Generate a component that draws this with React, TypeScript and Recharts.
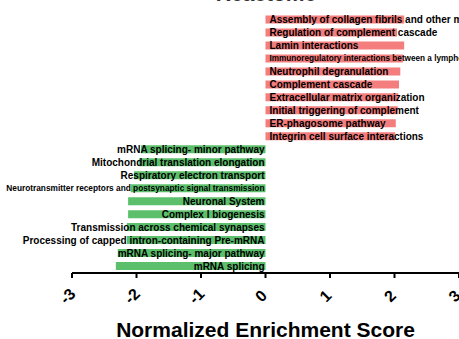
import React from 'react';
import { BarChart, Bar, XAxis, YAxis, Cell, LabelList } from 'recharts';

const pathways = [
  'Assembly of collagen fibrils and other multimeric structures',
  'Regulation of complement cascade',
  'Lamin interactions',
  'Immunoregulatory interactions between a lymphoid and a non-lymphoid cell',
  'Neutrophil degranulation',
  'Complement cascade',
  'Extracellular matrix organization',
  'Initial triggering of complement',
  'ER-phagosome pathway',
  'Integrin cell surface interactions',
  'mRNA splicing- minor pathway',
  'Mitochondrial translation elongation',
  'Respiratory electron transport',
  'Neurotransmitter receptors and postsynaptic signal transmission',
  'Neuronal System',
  'Complex I biogenesis',
  'Transmission across chemical synapses',
  'Processing of capped intron-containing Pre-mRNA',
  'mRNA splicing- major pathway',
  'mRNA splicing',
];

const nes = [
  2.15, 2.04, 2.15, 2.13, 2.09, 2.07, 2.06, 2.05, 2.02, 2.01,
  -1.93, -1.96, -2.04, -2.09, -2.13, -2.13, -2.15, -2.15, -2.29, -2.32,
];

const xTicks = [-3, -2, -1, 0, 1, 2, 3];

const data = pathways.map((name, i) => ({ name, nes: nes[i] }));

const FONT = '"Liberation Sans", Arial, sans-serif';
const UP = '#F47D7D';
const DOWN = '#5CBF6C';

// long names were shrunk to fit in the original
const labelSize = (name: string) => {
  if (name.startsWith('Immunoregulatory')) return 8.2;
  if (name.startsWith('Neurotransmitter')) return 8.3;
  return 10;
};

const BarLabel = (props: any) => {
  const { x, y, width, height, value, index } = props;
  const name = pathways[index];
  const zero = width >= 0 ? (value >= 0 ? x : x + width) : x;
  const pos = value >= 0;
  return (
    <text
      x={pos ? zero + 4 : zero - 1}
      y={y + height / 2}
      textAnchor={pos ? 'start' : 'end'}
      dominantBaseline="central"
      fontFamily={FONT}
      fontWeight="bold"
      fontSize={labelSize(name)}
      fill="#000"
    >
      {name}
    </text>
  );
};

const RotTick = (props: any) => {
  const { x, y, payload } = props;
  return (
    <text
      transform={`translate(${x - 4.5},${y + 16}) rotate(-45)`}
      textAnchor="middle"
      dominantBaseline="central"
      fontFamily={FONT}
      fontWeight="bold"
      fontSize={16}
      fill="#000"
    >
      {payload.value}
    </text>
  );
};

const AxisTitle = (props: any) => {
  const vb = props.viewBox;
  return (
    <text
      x={vb.x + vb.width / 2}
      y={vb.y + vb.height - 2}
      textAnchor="middle"
      fontFamily={FONT}
      fontWeight="bold"
      fontSize={21}
      fill="#000"
    >
      Normalized Enrichment Score
    </text>
  );
};

export default function App() {
  return (
    <div style={{ position: 'absolute', left: 0, top: 0, width: 459, height: 339, overflow: 'hidden', background: '#fff' }}>
      <BarChart
        width={480}
        height={339}
        data={data}
        layout="vertical"
        margin={{ top: 13.5, right: 21, bottom: 0, left: 72 }}
      >
        <XAxis
          type="number"
          domain={[-3, 3]}
          ticks={xTicks}
          height={66}
          tick={<RotTick />}
          tickSize={5}
          axisLine={{ stroke: '#000', strokeWidth: 2 }}
          tickLine={{ stroke: '#000', strokeWidth: 2 }}
          label={<AxisTitle />}
        />
        <YAxis type="category" dataKey="name" hide />
        <Bar dataKey="nes" barSize={8} isAnimationActive={false}>
          {data.map((d, i) => (
            <Cell key={i} fill={d.nes >= 0 ? UP : DOWN} />
          ))}
          <LabelList dataKey="nes" content={<BarLabel />} />
        </Bar>
      </BarChart>
      <svg width={459} height={339} style={{ position: 'absolute', left: 0, top: 0, pointerEvents: 'none' }}>
        <text x={266} y={1} textAnchor="middle" fontFamily={FONT} fontWeight="bold" fontSize={21} fill="#333">
          Reactome
        </text>
      </svg>
    </div>
  );
}
